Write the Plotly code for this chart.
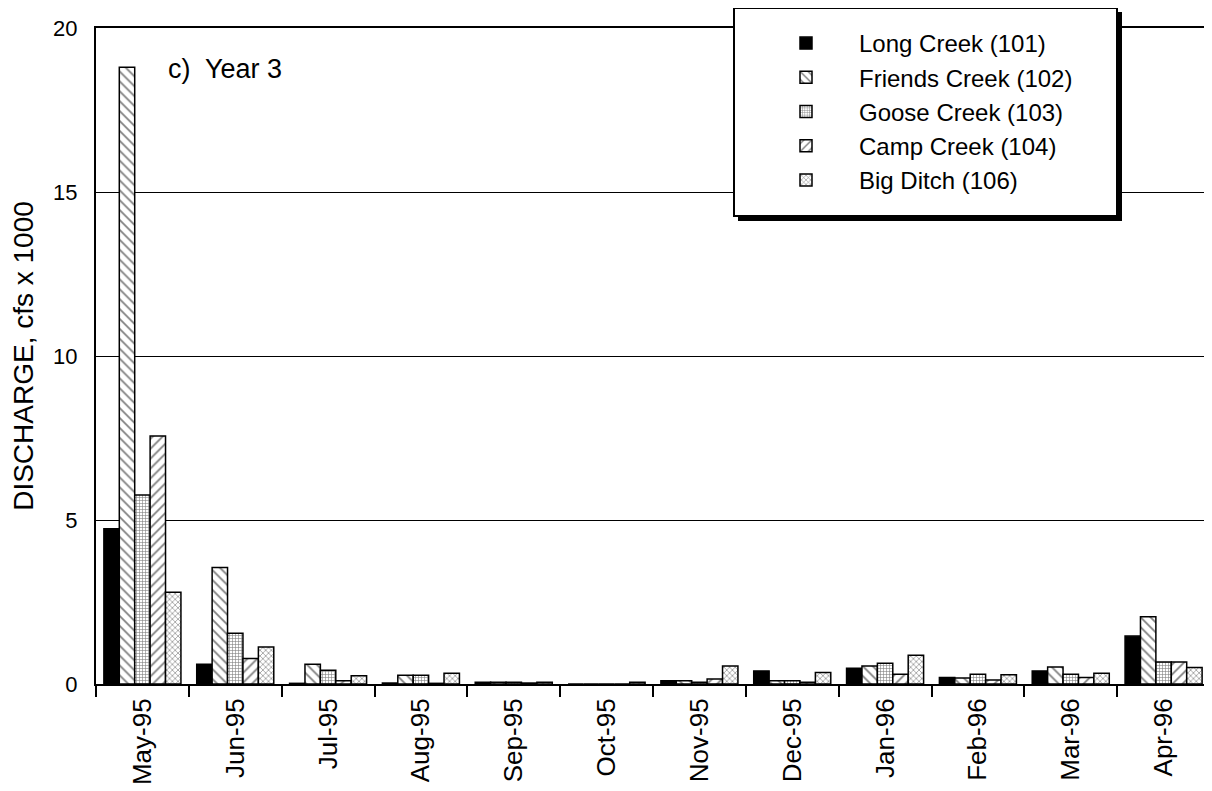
import plotly.graph_objects as go

months = ["May-95", "Jun-95", "Jul-95", "Aug-95", "Sep-95", "Oct-95",
          "Nov-95", "Dec-95", "Jan-96", "Feb-96", "Mar-96", "Apr-96"]

long_creek = [4.73, 0.60, 0.02, 0.03, 0.05, 0.0, 0.10, 0.40, 0.48, 0.20, 0.40, 1.46]
friends_creek = [18.8, 3.55, 0.60, 0.27, 0.05, 0.0, 0.10, 0.10, 0.55, 0.18, 0.52, 2.05]
goose_creek = [5.76, 1.55, 0.42, 0.27, 0.05, 0.0, 0.05, 0.10, 0.63, 0.30, 0.30, 0.67]
camp_creek = [7.56, 0.78, 0.10, 0.02, 0.03, 0.0, 0.15, 0.05, 0.30, 0.12, 0.20, 0.67]
big_ditch = [2.80, 1.13, 0.25, 0.33, 0.05, 0.05, 0.55, 0.35, 0.88, 0.28, 0.33, 0.50]

series = [
    ("Long Creek (101)", long_creek, dict(color="black")),
    ("Friends Creek (102)", friends_creek,
     dict(color="white", pattern=dict(shape="\\", fgcolor="black", bgcolor="white", size=7, solidity=0.25))),
    ("Goose Creek (103)", goose_creek,
     dict(color="white", pattern=dict(shape="+", fgcolor="black", bgcolor="white", size=3, solidity=0.35))),
    ("Camp Creek (104)", camp_creek,
     dict(color="white", pattern=dict(shape="/", fgcolor="black", bgcolor="white", size=7, solidity=0.25))),
    ("Big Ditch (106)", big_ditch,
     dict(color="white", pattern=dict(shape="x", fgcolor="black", bgcolor="white", size=4, solidity=0.3))),
]

fig = go.Figure()
for name, vals, mk in series:
    mk = dict(mk)
    mk["line"] = dict(color="black", width=1.5)
    fig.add_trace(go.Bar(name=name, x=months, y=vals, marker=mk))

font_family = "Arial, Liberation Sans, sans-serif"

# plot area in screen pixels: x 96..1210, y 28..684 (page has 8px body margin)
PL, PR, PT, PB = 96, 1210, 28, 684
PW, PH = PR - PL, PB - PT


def px(x):
    return (x - PL) / PW


def py(y):
    return (PB - y) / PH


fig.update_layout(
    width=1204, height=783,
    margin=dict(l=88, r=2, t=20, b=107, autoexpand=False),
    paper_bgcolor="white", plot_bgcolor="white",
    barmode="group", bargap=0.17, bargroupgap=0,
    font=dict(family=font_family, color="black", size=22),
    showlegend=True,
    legend=dict(
        x=px(753), y=py(21), xanchor="left", yanchor="top",
        bgcolor="rgba(0,0,0,0)", borderwidth=0,
        font=dict(size=24, family=font_family),
        itemwidth=96, tracegroupgap=0,
    ),
    shapes=[
        dict(type="rect", xref="paper", yref="paper",
             x0=px(738), x1=px(1122), y0=py(221), y1=py(12),
             fillcolor="black", line=dict(color="black", width=0), layer="above"),
        dict(type="rect", xref="paper", yref="paper",
             x0=px(734), x1=px(1117), y0=py(216), y1=py(8),
             fillcolor="white", line=dict(color="black", width=2), layer="above"),
    ],
    annotations=[
        dict(text="c)  Year 3", xref="paper", yref="paper",
             x=px(166), y=py(69), xanchor="left", yanchor="middle",
             showarrow=False, font=dict(size=27, family=font_family)),
    ],
)

fig.update_xaxes(
    type="category", tickangle=-90, tickson="boundaries",
    ticks="outside", ticklen=11, tickwidth=2, tickcolor="black",
    ticklabelstandoff=2,
    showline=True, linecolor="black", linewidth=2, mirror=True,
    showgrid=False, tickfont=dict(size=26, family=font_family),
)
fig.update_yaxes(
    range=[0, 20], tickvals=[0, 5, 10, 15, 20],
    showgrid=True, gridcolor="black", gridwidth=1,
    ticks="", ticklabelstandoff=12,
    showline=True, linecolor="black", linewidth=2, mirror=True,
    zeroline=False,
    title=dict(text="DISCHARGE, cfs x 1000", font=dict(size=28, family=font_family), standoff=14),
    tickfont=dict(size=22, family=font_family),
)

fig.write_html("out.html")
